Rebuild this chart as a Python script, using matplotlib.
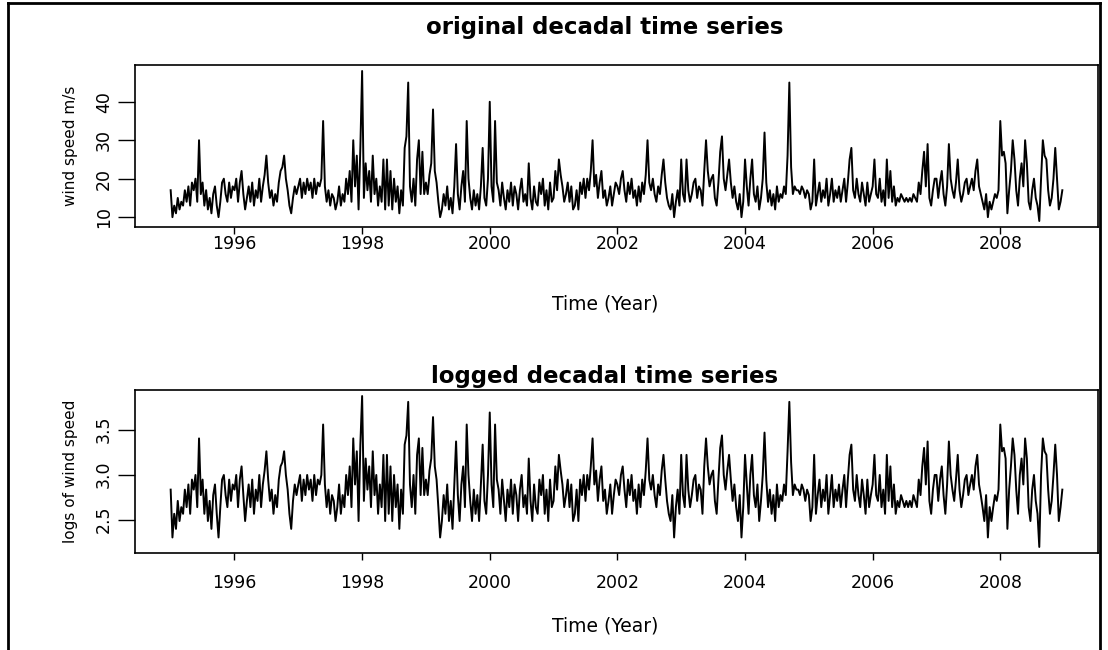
import numpy as np
import matplotlib.pyplot as plt
from matplotlib.lines import Line2D

# dekadal (10-day) maximum wind speed, m/s, 36 values per year
y1995 = [17, 10, 13, 11, 15, 12, 14, 13, 17, 14, 18, 13, 19, 17, 20, 14, 30, 16,
         19, 13, 17, 12, 15, 11, 16, 18, 13, 10, 14, 19, 20, 16, 14, 19, 15, 18]
y1996 = [17, 20, 14, 19, 22, 16, 12, 15, 18, 14, 19, 13, 17, 15, 20, 14, 18, 21,
         26, 19, 15, 17, 13, 16, 14, 19, 22, 23, 26, 20, 17, 13, 11, 15, 18, 16]
y1997 = [18, 20, 15, 19, 16, 20, 17, 19, 15, 20, 16, 19, 18, 20, 35, 18, 14, 17,
         13, 16, 15, 12, 14, 18, 13, 16, 14, 20, 16, 22, 14, 30, 18, 26, 12, 28]
y1998 = [48, 15, 24, 17, 22, 14, 26, 16, 20, 13, 18, 14, 25, 12, 25, 13, 22, 12,
         20, 14, 18, 11, 17, 13, 28, 31, 45, 18, 14, 20, 13, 25, 30, 16, 27, 16]
y1999 = [19, 16, 21, 24, 38, 22, 19, 14, 10, 12, 16, 13, 18, 12, 15, 11, 18, 29,
         16, 12, 18, 22, 14, 35, 20, 15, 12, 17, 13, 16, 12, 18, 28, 15, 13, 20]
y2000 = [40, 18, 14, 35, 19, 17, 13, 19, 15, 12, 17, 14, 19, 13, 18, 16, 12, 17,
         20, 14, 16, 13, 24, 15, 12, 18, 14, 13, 19, 16, 20, 13, 17, 12, 19, 14]
y2001 = [15, 22, 17, 25, 21, 18, 14, 16, 19, 14, 18, 12, 13, 17, 12, 19, 16, 20,
         15, 20, 17, 22, 30, 18, 21, 15, 19, 22, 15, 17, 13, 15, 18, 13, 16, 19]
y2002 = [18, 16, 20, 22, 17, 14, 19, 16, 20, 15, 17, 13, 18, 14, 19, 16, 21, 30,
         19, 17, 20, 16, 14, 18, 16, 21, 25, 19, 15, 13, 12, 16, 10, 14, 17, 13]
y2003 = [25, 16, 14, 25, 17, 14, 16, 19, 20, 15, 18, 17, 13, 22, 30, 22, 18, 20,
         21, 15, 13, 19, 27, 31, 20, 17, 21, 25, 19, 15, 18, 14, 12, 16, 10, 14]
y2004 = [25, 18, 13, 20, 25, 16, 14, 18, 12, 15, 20, 32, 19, 14, 17, 13, 16, 12,
         18, 14, 16, 15, 18, 16, 26, 45, 23, 16, 18, 17, 17, 16, 18, 17, 15, 17]
y2005 = [16, 12, 14, 25, 13, 16, 19, 14, 17, 15, 20, 13, 16, 20, 14, 17, 15, 18,
         14, 17, 20, 14, 19, 25, 28, 17, 15, 20, 16, 14, 19, 16, 13, 19, 14, 16]
y2006 = [18, 25, 16, 15, 20, 14, 17, 13, 25, 15, 22, 14, 18, 13, 15, 14, 16, 15,
         14, 15, 14, 15, 14, 16, 15, 14, 19, 16, 22, 27, 18, 29, 15, 13, 17, 20]
y2007 = [20, 15, 19, 22, 16, 13, 18, 29, 20, 17, 15, 19, 25, 17, 14, 16, 19, 20,
         16, 18, 20, 17, 22, 25, 18, 16, 14, 12, 16, 10, 14, 12, 14, 16, 15, 17]
y2008 = [35, 26, 27, 24, 11, 17, 22, 30, 25, 17, 13, 20, 24, 18, 30, 24, 14, 12,
         17, 20, 15, 13, 9, 20, 30, 26, 25, 17, 13, 15, 20, 28, 20, 12, 14, 17]

start_year = 1995
per_year = 36
year_ticks = [1996, 1998, 2000, 2002, 2004, 2006, 2008]

wind = np.array(y1995 + y1996 + y1997 + y1998 + y1999 + y2000 + y2001
                + y2002 + y2003 + y2004 + y2005 + y2006 + y2007 + y2008, dtype=float)
time = start_year + np.arange(len(wind)) / per_year
log_wind = np.log(wind)

W, H = 1108, 650
fig = plt.figure(figsize=(W / 100, H / 100), dpi=100)
fig.patch.set_facecolor('white')

# text is centred a little left of the plot box centre
text_x = (605 - 135) / 963


def r_style(ax, yticks, ylabel, xpad, xlabelpad):
    ax.margins(x=0.04, y=0.04)
    ax.set_xticks(year_ticks)
    ax.set_yticks(yticks)
    ax.tick_params(axis='x', direction='out', length=5, width=1, pad=xpad, labelsize=12.5)
    ax.tick_params(axis='y', direction='out', length=12, width=1, pad=4, labelsize=12.5)
    for lab in ax.get_yticklabels():
        lab.set_rotation(90)
        lab.set_va('center')
    for sp in ax.spines.values():
        sp.set_linewidth(1.2)
    ax.set_xlabel('Time (Year)', fontsize=13.5, labelpad=xlabelpad, x=text_x)
    ax.set_ylabel(ylabel, fontsize=11, labelpad=12)


ax1 = fig.add_axes([135 / W, 1 - 227 / H, 963 / W, 162 / H])
ax1.plot(time, wind, color='black', lw=1.4)
r_style(ax1, [10, 20, 30, 40], 'wind speed m/s', xpad=1, xlabelpad=30)
ax1.set_title('original decadal time series', fontsize=16.5, fontweight='bold',
              pad=22, x=text_x)

ax2 = fig.add_axes([135 / W, 1 - 553 / H, 963 / W, 163 / H])
ax2.plot(time, log_wind, color='black', lw=1.4)
r_style(ax2, [2.5, 3.0, 3.5], 'logs of wind speed', xpad=10, xlabelpad=18)
ax2.set_yticklabels(['2.5', '3.0', '3.5'], rotation=90, va='center')
ax2.set_title('logged decadal time series', fontsize=16.5, fontweight='bold',
              pad=5, x=text_x)

# frame around the page
for (x0, y0), (x1, y1) in [((8, 650), (8, 3)), ((8, 3), (1100, 3)), ((1100, 3), (1100, 650))]:
    fig.add_artist(Line2D([x0 / W, x1 / W], [1 - y0 / H, 1 - y1 / H],
                          transform=fig.transFigure, color='black', lw=2))

fig.savefig('out.png', dpi=100)
